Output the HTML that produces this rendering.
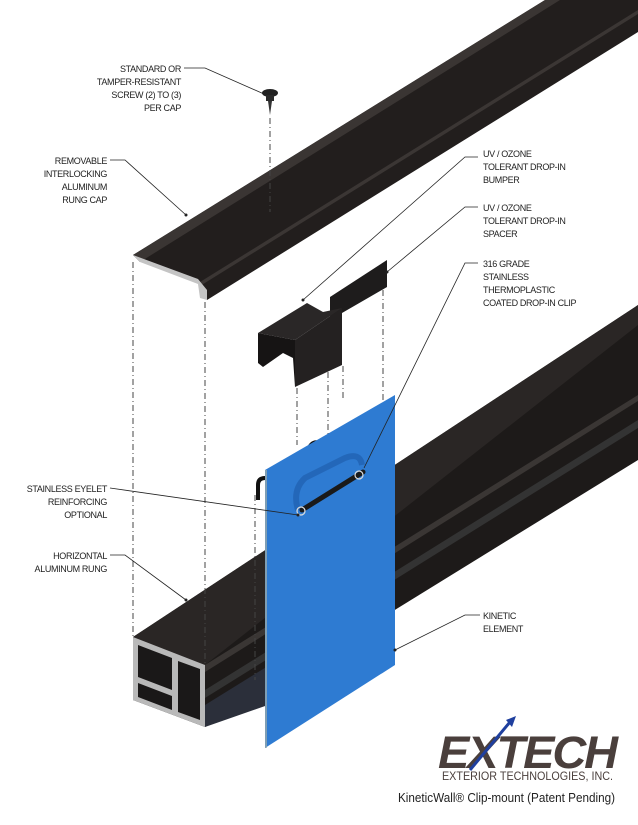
<!DOCTYPE html>
<html><head><meta charset="utf-8"><style>
html,body{margin:0;padding:0;background:#fff}
svg{display:block}
text{font-family:"Liberation Sans",sans-serif;fill:#222}
.l{font-size:9px;letter-spacing:-0.35px}
</style></head><body>
<svg width="638" height="825" viewBox="0 0 638 825" xmlns="http://www.w3.org/2000/svg">
<!-- bottom rung -->
<polygon points="133,637 638,305 638,460 205,727 133,700" fill="#1d1a19"/>
<polygon points="133,637 638,305 638,325 205,665" fill="#2a2625"/>
<polygon points="205,665 638,395 638,401 205,672" fill="#3a3634"/>
<polygon points="205,690 638,420 638,428 205,698" fill="#333"/>
<polygon points="205,705 268,666 268,705 205,727" fill="#2b2f3a"/>
<!-- end face -->
<polygon points="133,637 205,665 205,727 133,700" fill="#b9b9b9"/>
<polygon points="138,645 172,658 172,690 138,677" fill="#1a1818"/>
<polygon points="178,661 200,669 200,720 178,712" fill="#1a1818"/>
<polygon points="138,683 172,696 172,710 138,697" fill="#1a1818"/>
<!-- top cap -->
<polygon points="133,255 545,0 638,0 638,32 207,300 200,282" fill="#221e1d"/>
<polygon points="133,255 545,0 560,0 140,262" fill="#3a3533"/>
<polygon points="200,282 638,10 638,14 200,286" fill="#3b3634"/>
<polygon points="133,255 198,279 207,290 207,300 200,298 198,284 140,262" fill="#c4c4c4"/>
<!-- screw -->
<ellipse cx="270" cy="93" rx="8" ry="4" fill="#222"/>
<rect x="266" y="95" width="8" height="6" fill="#2a2a2a"/>
<polygon points="268,101 272,101 270,115" fill="#333"/>
<!-- dashed lines -->
<g stroke="#444" stroke-width="1" stroke-dasharray="6,3,1,3" fill="none">
<line x1="270" y1="118" x2="270" y2="212"/>
<line x1="133" y1="262" x2="133" y2="637"/>
<line x1="205" y1="302" x2="205" y2="665"/>
<line x1="297" y1="388" x2="297" y2="445"/>
<line x1="328" y1="372" x2="328" y2="440"/>
<line x1="343" y1="366" x2="343" y2="400"/>
<line x1="383" y1="290" x2="383" y2="405"/>
<line x1="255" y1="495" x2="255" y2="680"/>
</g>
<!-- spacer back plate -->
<polygon points="330,297 387,260 387,287 342,313 342,330 330,317" fill="#1e1c1c"/>
<!-- bumper -->
<polygon points="258,333 307,303 323,312 342,308 295,340" fill="#2a2727"/>
<polygon points="258,333 295,340 295,387 293,358 283,353 263,367 258,363" fill="#161414"/>
<polygon points="295,340 342,308 342,365 295,387" fill="#242121"/>
<!-- clip hooks -->
<path d="M258,500 L258,485 Q258,478 265,478 L272,478" stroke="#111" stroke-width="4" fill="none"/>
<path d="M308,450 Q312,440 320,443" stroke="#111" stroke-width="4" fill="none"/>
<!-- blue panel -->
<polygon points="265,470 395,395 395,665 265,748" fill="#2e7bd2"/>
<line x1="266" y1="470" x2="266" y2="748" stroke="#9aa" stroke-width="1.5"/>
<path d="M298,510 Q292,490 305,478 L345,458 Q360,452 362,465" stroke="#1f5fae" stroke-width="6" fill="none" opacity="0.7"/>
<line x1="302" y1="510" x2="363" y2="472" stroke="#1a1a1a" stroke-width="5" stroke-linecap="round"/>
<circle cx="301" cy="511" r="4" fill="none" stroke="#ddd" stroke-width="1.2"/>
<circle cx="359" cy="475" r="4" fill="none" stroke="#ddd" stroke-width="1.2"/>
<!-- leaders -->
<g stroke="#222" stroke-width="0.8" fill="none">
<polyline points="184,68 205,68 264,94"/>
<polyline points="110,160 125,160 186,215"/>
<polyline points="478,157 465,157 303,300"/>
<polyline points="478,207 465,207 387,272"/>
<polyline points="478,263 465,263 364,468"/>
<polyline points="110,488 298,515"/>
<polyline points="110,555 125,555 186,600"/>
<polyline points="480,615 465,615 395,650"/>
</g>
<g fill="#222"><circle cx="303" cy="300" r="1.5"/><circle cx="387" cy="272" r="1.5"/><circle cx="186" cy="215" r="1.5"/><circle cx="186" cy="600" r="1.5"/><circle cx="395" cy="650" r="1.5"/><circle cx="298" cy="515" r="1.5"/></g>
<!-- labels -->
<g class="l" text-anchor="end">
<text x="181" y="72">STANDARD OR</text>
<text x="181" y="85">TAMPER-RESISTANT</text>
<text x="181" y="98">SCREW (2) TO (3)</text>
<text x="181" y="111">PER CAP</text>
<text x="107" y="164">REMOVABLE</text>
<text x="107" y="177">INTERLOCKING</text>
<text x="107" y="190">ALUMINUM</text>
<text x="107" y="203">RUNG CAP</text>
<text x="107" y="492">STAINLESS EYELET</text>
<text x="107" y="505">REINFORCING</text>
<text x="107" y="518">OPTIONAL</text>
<text x="107" y="559">HORIZONTAL</text>
<text x="107" y="572">ALUMINUM RUNG</text>
</g>
<g class="l">
<text x="483" y="157">UV / OZONE</text>
<text x="483" y="170">TOLERANT DROP-IN</text>
<text x="483" y="183">BUMPER</text>
<text x="483" y="211">UV / OZONE</text>
<text x="483" y="224">TOLERANT DROP-IN</text>
<text x="483" y="237">SPACER</text>
<text x="483" y="267">316 GRADE</text>
<text x="483" y="280">STAINLESS</text>
<text x="483" y="293">THERMOPLASTIC</text>
<text x="483" y="306">COATED DROP-IN CLIP</text>
<text x="483" y="619">KINETIC</text>
<text x="483" y="632">ELEMENT</text>
</g>
<!-- logo -->
<text x="438" y="768" style="font-weight:bold;font-style:italic;font-size:45px;fill:#4a3f3c;letter-spacing:-2px" textLength="178" lengthAdjust="spacingAndGlyphs">EXTECH</text>
<line x1="470" y1="770" x2="510" y2="722" stroke="#1f3f9e" stroke-width="3"/>
<polygon points="506,720 516,716 512,727" fill="#1f3f9e"/>
<text x="442" y="780" style="font-size:12px;fill:#4a3f3c" textLength="171" lengthAdjust="spacingAndGlyphs">EXTERIOR TECHNOLOGIES, INC.</text>
<text x="398" y="802" style="font-size:13px;fill:#222" textLength="217" lengthAdjust="spacingAndGlyphs">KineticWall® Clip-mount (Patent Pending)</text>
</svg>
</body></html>
